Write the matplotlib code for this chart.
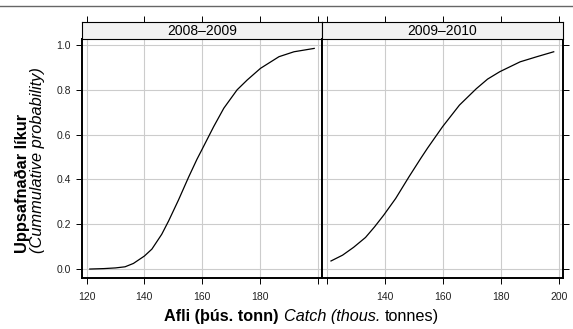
import matplotlib
matplotlib.use('Agg')
import matplotlib.pyplot as plt
from matplotlib.lines import Line2D
from matplotlib.offsetbox import TextArea, HPacker, AnnotationBbox

plt.rcParams['font.family'] = ['Liberation Sans', 'DejaVu Sans']

# data (catch in thous. tonnes, cumulative probability)
panels = ['2008\u20132009', '2009\u20132010']
catch_0809 = [121.1, 126.0, 130.0, 133.3, 136.2, 140.0, 142.6, 146.0, 148.4, 151.8,
              155.3, 158.2, 160.0, 164.0, 167.5, 172.1, 175.6, 180.2, 186.6, 191.8, 198.8]
prob_0809 = [0.0, 0.002, 0.005, 0.010, 0.025, 0.058, 0.089, 0.155, 0.215, 0.308,
             0.410, 0.490, 0.535, 0.636, 0.718, 0.800, 0.844, 0.896, 0.948, 0.970, 0.985]
catch_0910 = [121.5, 125.5, 129.3, 133.4, 136.5, 139.7, 143.8, 148.4, 152.5, 154.8,
              160.0, 165.8, 171.6, 175.5, 179.7, 186.7, 192.5, 198.3]
prob_0910 = [0.036, 0.062, 0.097, 0.141, 0.188, 0.241, 0.315, 0.412, 0.495, 0.540,
             0.636, 0.732, 0.805, 0.848, 0.881, 0.925, 0.948, 0.970]
xticks = [120, 140, 160, 180, 200]
yticks = [0.0, 0.2, 0.4, 0.6, 0.8, 1.0]

W, H = 573, 329
fig = plt.figure(figsize=(W / 100, H / 100), dpi=100)

lefts = [82, 322]
widths = [240, 241]
series = [(catch_0809, prob_0809), (catch_0910, prob_0910)]
for i in range(2):
    ax = fig.add_axes([lefts[i] / W, (H - 278) / H, widths[i] / W, 239 / H])
    st = fig.add_axes([lefts[i] / W, (H - 39) / H, widths[i] / W, 17 / H])
    x, y = series[i]
    ax.plot(x, y, color='black', lw=0.9)
    ax.set_xlim(118.4, 201.5)
    ax.set_ylim(-0.04, 1.027)
    ax.set_xticks(xticks)
    ax.set_yticks(yticks)
    ax.grid(True, color='#cccccc', lw=0.8)
    ax.set_axisbelow(True)
    for s in ax.spines.values():
        s.set_linewidth(1.4)
    ax.tick_params(direction='out', length=4.3, width=0.7, labelsize=7.5, pad=5.5, axis='x', labelcolor='#222222')
    ax.tick_params(direction='out', length=4.3, width=0.7, labelsize=7.5, pad=3.5, axis='y', labelcolor='#222222')
    if i == 0:
        ax.set_yticklabels(['%.1f' % v for v in yticks])
        ax.set_xticklabels(['120', '140', '160', '180', ''])
    else:
        ax.yaxis.tick_right()
        ax.set_yticklabels([])
        ax.set_xticklabels(['', '140', '160', '180', '200'])

    # strip
    st.set_facecolor('#f2f2f2')
    st.set_xlim(118.4, 201.5)
    st.set_ylim(0, 1)
    st.set_yticks([])
    st.set_xticks(xticks)
    st.xaxis.tick_top()
    st.tick_params(direction='out', length=4.3, width=0.7, labeltop=False)
    for s in st.spines.values():
        s.set_linewidth(0.8)
    st.text(0.5, 0.45, panels[i], transform=st.transAxes, ha='center', va='center', fontsize=10)

# thin line at the very top
fig.add_artist(Line2D([0, 1], [1 - 6 / H] * 2, color='#666666', lw=1))

# y axis label (two lines, aligned at the bottom)
fig.text(22 / W, 1 - 253 / H, 'Uppsafna\u00f0ar l\u00edkur', rotation=90, ha='center', va='bottom',
         fontsize=11.8, fontweight='bold')
fig.text(38 / W, 1 - 253 / H, '(Cummulative probability)', rotation=90, ha='center', va='bottom',
         fontsize=11.8, style='italic')

# x axis label with mixed styles
parts = [TextArea('Afli (\u00fe\u00fas. tonn)', textprops=dict(fontsize=11.7, fontweight='bold')),
         TextArea('Catch (thous.', textprops=dict(fontsize=11.7, style='italic')),
         TextArea('tonnes)', textprops=dict(fontsize=11.7))]
box = HPacker(children=parts, align='baseline', pad=0, sep=3.3)
ab = AnnotationBbox(box, (301.5 / W, 1 - 317 / H), xycoords='figure fraction', frameon=False,
                    box_alignment=(0.5, 0.5))
fig.add_artist(ab)

plt.savefig('out.png', dpi=100)
